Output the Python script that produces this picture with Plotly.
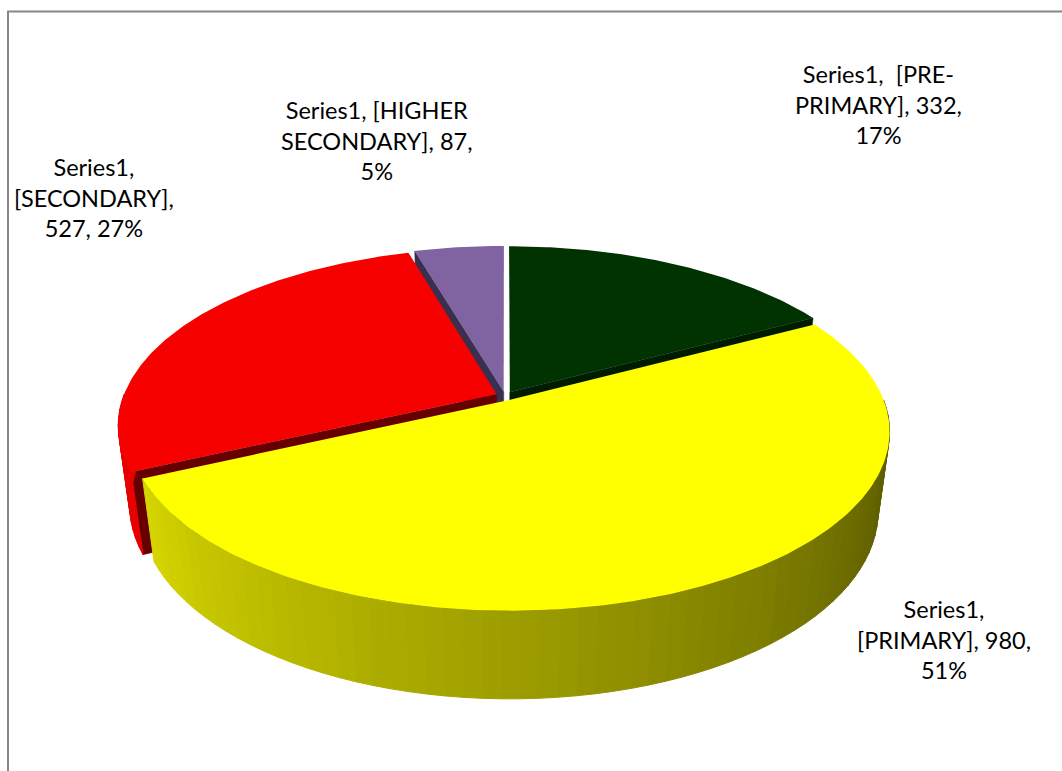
import numpy as np
import plotly.graph_objects as go

# ---- data ----
series_name = "Series1"
categories = ["PRE-PRIMARY", "PRIMARY", "SECONDARY", "HIGHER SECONDARY"]
values = [332, 980, 527, 87]

# ---- style ----
top_colors = ["#003300", "#ffff00", "#f70000", "#8064a2"]
cut_colors = ["#001c00", "#5f5f00", "#660000", "#3a2f4e"]
wall_base = [(0, 51, 0), (255, 255, 0), (255, 0, 0), (128, 100, 162)]
label_pos = [(878, 104), (944, 639), (94, 197), (376, 140)]
label_templates = [
    "{s},  [{c0}<br>{c1}], {v},<br>{p}%",
    "{s},<br>[{c}], {v},<br>{p}%",
    "{s},<br>[{c}],<br>{v}, {p}%",
    "{s}, [{c0}<br>{c1}], {v},<br>{p}%",
]

W, H = 1062, 771
CX, CY = 505.0, 396.0        # centre of the pie's top face
RX, RY = 373.0, 172.6        # radii of the projected disc
PERSP = 0.174                # foreshortening toward the back
DEPTH = 81.6                 # extrusion height
DEPTH_PERSP = 0.03           # the base sits a little farther away
EXPLODE = 0.025


def project(u, v, bottom=False):
    u = np.asarray(u, float)
    v = np.asarray(v, float)
    w = 1 + PERSP * v + (DEPTH_PERSP if bottom else 0.0)
    x = CX + RX * u / w
    y = CY + (-RY * v + (DEPTH if bottom else 0.0)) / w
    return x, y


def rgb(c, f):
    return "rgb({},{},{})".format(*[int(round(min(255, k * f))) for k in c])


def poly(fig, xs, ys, color, edge=0.0):
    fig.add_trace(go.Scatter(
        x=list(xs), y=list(ys), mode="lines", fill="toself",
        fillcolor=color, line=dict(color=color, width=edge),
        hoverinfo="skip", showlegend=False))


def split_cat(c):
    if "-" in c:
        i = c.index("-") + 1
    else:
        i = c.index(" ") + 1
    return c[:i].strip(), c[i:].strip()


total = sum(values)
fractions = [v / total for v in values]
starts = np.concatenate([[0.0], np.cumsum(fractions)[:-1]]) * 360.0
ends = np.cumsum(fractions) * 360.0

fig = go.Figure()

# draw back slices first
order = sorted(range(len(values)),
               key=lambda i: -np.cos(np.radians((starts[i] + ends[i]) / 2)))

for i in order:
    a0, a1 = starts[i], ends[i]
    mid = np.radians((a0 + a1) / 2)
    du, dv = EXPLODE * np.sin(mid), EXPLODE * np.cos(mid)

    def pt(theta_deg, bottom=False, radius=1.0):
        t = np.radians(theta_deg)
        return project(du + radius * np.sin(t), dv + radius * np.cos(t), bottom)

    apex_t = project(du, dv)
    apex_b = project(du, dv, True)

    # radial cut faces that turn toward the viewer
    for ang, normal in ((a0, a0 - 90), (a1, a1 + 90)):
        if np.cos(np.radians(normal)) < -0.05:
            rt = pt(ang)
            rb = pt(ang, True)
            poly(fig,
                 [apex_t[0], rt[0], rb[0], apex_b[0], apex_t[0]],
                 [apex_t[1], rt[1], rb[1], apex_b[1], apex_t[1]],
                 cut_colors[i], 0.5)

    # outer wall on the front half, shaded strip by strip
    w0, w1 = max(a0, 90.0), min(a1, 270.0)
    if w1 > w0:
        n = max(2, int(np.ceil((w1 - w0) / 2.5)))
        edges = np.linspace(w0, w1, n + 1)
        for j in range(n):
            e0, e1 = edges[j], edges[j + 1]
            tt = np.linspace(e0, e1, 4)
            xt, yt = pt(tt)
            xb, yb = pt(tt[::-1], True)
            tc = (e0 + e1) / 2
            if i == 1:
                f = 0.375 + 0.465 * np.clip((tc - 110) / 135.0, 0, 1)
            else:
                f = 0.9
            col = rgb(wall_base[i], f)
            poly(fig, np.r_[xt, xb, xt[0]], np.r_[yt, yb, yt[0]], col, 1.0)

    # top face
    tt = np.linspace(a0, a1, max(12, int((a1 - a0) * 1.5)))
    xt, yt = pt(tt)
    poly(fig, np.r_[apex_t[0], xt, apex_t[0]], np.r_[apex_t[1], yt, apex_t[1]],
         top_colors[i], 0.0)

# data labels
for i, cat in enumerate(categories):
    pct = round(fractions[i] * 100)
    c0, c1 = split_cat(cat) if " " in cat or "-" in cat else (cat, "")
    text = label_templates[i].format(s=series_name, c=cat, c0=c0, c1=c1,
                                     v=values[i], p=pct)
    fig.add_annotation(x=label_pos[i][0], y=label_pos[i][1], text=text,
                       showarrow=False, xanchor="center", yanchor="middle",
                       align="center",
                       font=dict(family="Lato", size=23.5, color="#000000"))

# chart border
fig.add_shape(type="rect", x0=8, y0=11.5, x1=W + 40, y1=H + 40,
              xref="x", yref="y", line=dict(color="#878787", width=2),
              fillcolor="rgba(0,0,0,0)", layer="above")

fig.update_layout(
    width=W, height=H,
    margin=dict(l=0, r=0, t=0, b=0),
    paper_bgcolor="white", plot_bgcolor="white",
    xaxis=dict(range=[0, W], visible=False, fixedrange=True),
    yaxis=dict(range=[H, 0], visible=False, fixedrange=True),
    showlegend=False,
)

fig.write_html("out.html")
